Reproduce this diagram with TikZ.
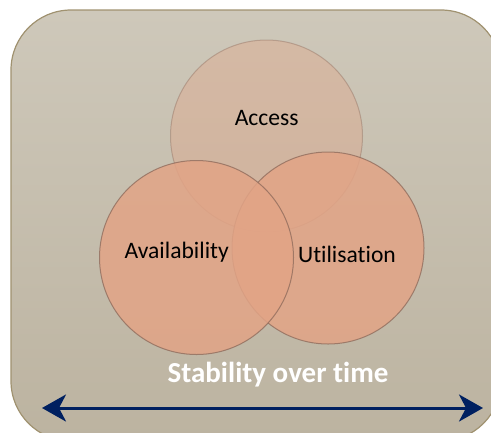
\documentclass[tikz,border=0pt]{standalone}
\usepackage{fontspec}
\setmainfont{Carlito}[Ligatures={NoCommon}]
\usetikzlibrary{arrows.meta}
\definecolor{panelTop}{RGB}{206,200,186}
\definecolor{panelBot}{RGB}{188,179,160}
\definecolor{panelEdge}{RGB}{160,146,112}
\definecolor{petal}{RGB}{226,164,134}
\definecolor{petalEdge}{RGB}{140,105,90}
\definecolor{navy}{RGB}{0,32,96}
\tikzset{
  petalA/.style={fill=petal, fill opacity=0.38, draw=petalEdge, draw opacity=0.4, line width=1bp},
  petalB/.style={fill=petal, fill opacity=0.85, draw=petalEdge, draw opacity=0.75, line width=1bp},
  label/.style={font=\fontsize{23.6bp}{28bp}\selectfont, text=black, anchor=base, inner sep=0pt},
  caption/.style={font=\fontsize{29bp}{34bp}\selectfont\bfseries, text=white, anchor=base, inner sep=0pt},
  timeline/.style={draw=navy, line width=3bp, {Stealth[length=24bp, width=27bp, inset=7bp]}-{Stealth[length=24bp, width=27bp, inset=7bp]}}
}
\begin{document}
\begin{tikzpicture}[x=1bp, y=-1bp]
  \useasboundingbox (0,0) rectangle (491,432);
  \begin{scope}
    \clip (0,0) rectangle (491,432);
    % rounded panel
    \path[top color=panelTop, bottom color=panelBot, rounded corners=60bp]
      (11,10) rectangle (501,441);
    \draw[panelEdge, line width=1.2bp, rounded corners=60bp]
      (11,10) rectangle (501,441);
  \end{scope}
  % the three overlapping circles
  \path[petalA] (266.5,136) circle[radius=96];
  \path[petalB] (328,248) circle[radius=96];
  \path[petalB] (196.5,257.5) circle[radius=97];
  \node[label] (access) at (266.7,125) {Access};
  \node[label] (avail) at (176.7,258.5) {Availability};
  \node[label] (util) at (347,262) {Utilisation};
  \node[caption] (stab) at (278,382.7) {Stability over time};
  \coordinate (tl) at (42,408);
  \coordinate (tr) at (483,408);
  \draw[timeline] (tl) -- (tr);
\end{tikzpicture}
\end{document}
